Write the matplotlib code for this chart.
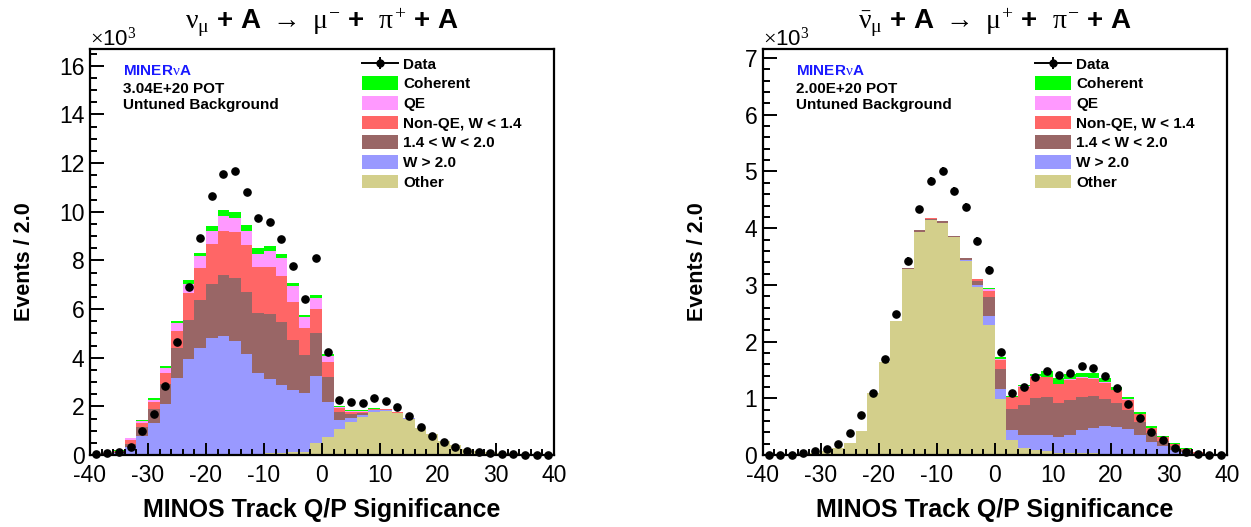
import numpy as np
import matplotlib
matplotlib.use("Agg")
import matplotlib.pyplot as plt
from matplotlib.ticker import MultipleLocator
from matplotlib.patches import Patch
from matplotlib.lines import Line2D
from matplotlib.legend_handler import HandlerTuple

plt.rcParams['font.family'] = ['Liberation Sans', 'DejaVu Sans']
plt.rcParams['mathtext.fontset'] = 'custom'
plt.rcParams['mathtext.rm'] = 'Liberation Serif'
plt.rcParams['mathtext.it'] = 'Liberation Serif'
plt.rcParams['mathtext.bf'] = 'Liberation Serif:bold'
plt.rcParams['axes.unicode_minus'] = False

# ---------------- data (units of 10^3 events per bin of 2.0) ----------------
bin_edges = np.arange(-40, 42, 2)
bin_centers = 0.5 * (bin_edges[:-1] + bin_edges[1:])

legend_labels = ["Coherent", "QE", "Non-QE, W < 1.4", "1.4 < W < 2.0", "W > 2.0", "Other"]
stack_colors = ["#d3cf8b", "#9999ff", "#996666", "#ff6666", "#ff99ff", "#00ff00"]  # bottom -> top

# neutrino mode (left)
nu_other = [0.01, 0.01, 0.02, 0.03, 0.04, 0.04, 0.04, 0.04, 0.04, 0.04,
            0.04, 0.04, 0.05, 0.05, 0.06, 0.07, 0.08, 0.12, 0.14, 0.51,
            0.75, 1.05, 1.34, 1.57, 1.78, 1.82, 1.71, 1.50, 1.12, 0.85,
            0.57, 0.41, 0.26, 0.16, 0.11, 0.08, 0.07, 0.06, 0.05, 0.05]
nu_wgt2 = [0.02, 0.03, 0.08, 0.28, 0.74, 1.26, 2.04, 3.11, 3.90, 4.35,
           4.75, 4.86, 4.63, 4.10, 3.32, 3.05, 2.79, 2.55, 2.42, 2.73,
           1.44, 0.39, 0.19, 0.09, 0.06, 0.03, 0.02, 0.01, 0.01, 0.00,
           0.00, 0.00, 0.00, 0.00, 0.00, 0.00, 0.00, 0.00, 0.00, 0.00]
nu_w1420 = [0.01, 0.01, 0.03, 0.14, 0.38, 0.59, 0.84, 1.23, 1.63, 1.98,
            2.23, 2.52, 2.59, 2.54, 2.47, 2.68, 2.61, 2.05, 1.55, 1.77,
            1.03, 0.31, 0.17, 0.08, 0.03, 0.02, 0.01, 0.01, 0.00, 0.00,
            0.00, 0.00, 0.00, 0.00, 0.00, 0.00, 0.00, 0.00, 0.00, 0.00]
nu_nonqe = [0.01, 0.02, 0.04, 0.17, 0.14, 0.27, 0.47, 0.73, 1.10, 1.30,
            1.65, 1.78, 1.89, 1.93, 1.86, 1.93, 1.88, 1.58, 1.12, 1.00,
            0.61, 0.17, 0.08, 0.04, 0.03, 0.01, 0.01, 0.00, 0.00, 0.00,
            0.00, 0.00, 0.00, 0.00, 0.00, 0.00, 0.00, 0.00, 0.00, 0.00]
nu_qe = [0.00, 0.00, 0.01, 0.06, 0.08, 0.10, 0.20, 0.30, 0.38, 0.50,
         0.54, 0.63, 0.59, 0.58, 0.57, 0.65, 0.72, 0.65, 0.45, 0.45,
         0.24, 0.06, 0.03, 0.03, 0.01, 0.01, 0.00, 0.00, 0.00, 0.00,
         0.00, 0.00, 0.00, 0.00, 0.00, 0.00, 0.00, 0.00, 0.00, 0.00]
nu_coh = [0.00, 0.00, 0.01, 0.03, 0.06, 0.07, 0.05, 0.09, 0.14, 0.15,
          0.21, 0.23, 0.24, 0.25, 0.22, 0.23, 0.20, 0.14, 0.08, 0.10,
          0.08, 0.05, 0.02, 0.02, 0.01, 0.00, 0.00, 0.00, 0.00, 0.00,
          0.00, 0.00, 0.00, 0.00, 0.00, 0.00, 0.00, 0.00, 0.00, 0.00]
nu_data = [0.06, 0.07, 0.11, 0.34, 0.99, 1.68, 2.85, 4.63, 6.89, 8.90,
           10.65, 11.57, 11.66, 10.80, 9.75, 9.56, 8.86, 7.76, 6.42, 8.10,
           4.23, 2.26, 2.16, 2.15, 2.33, 2.22, 1.97, 1.59, 1.15, 0.77,
           0.53, 0.31, 0.18, 0.11, 0.07, 0.04, 0.03, 0.01, 0.01, 0.005]

# antineutrino mode (right)
nub_other = [0.00, 0.01, 0.01, 0.02, 0.04, 0.07, 0.12, 0.21, 0.42, 1.10,
             1.64, 2.37, 3.28, 3.94, 4.15, 4.09, 3.84, 3.42, 2.96, 2.29,
             0.98, 0.26, 0.13, 0.09, 0.07, 0.04, 0.03, 0.03, 0.03, 0.02,
             0.02, 0.02, 0.01, 0.01, 0.01, 0.01, 0.00, 0.00, 0.00, 0.00]
nub_wgt2 = [0.00, 0.00, 0.00, 0.00, 0.00, 0.00, 0.00, 0.00, 0.00, 0.00,
            0.00, 0.00, 0.00, 0.00, 0.00, 0.00, 0.01, 0.02, 0.03, 0.16,
            0.19, 0.18, 0.23, 0.26, 0.28, 0.28, 0.33, 0.41, 0.45, 0.49,
            0.47, 0.43, 0.34, 0.22, 0.14, 0.08, 0.05, 0.02, 0.01, 0.01]
nub_w1420 = [0.00, 0.00, 0.00, 0.00, 0.00, 0.00, 0.00, 0.00, 0.00, 0.00,
             0.00, 0.00, 0.01, 0.02, 0.02, 0.03, 0.02, 0.03, 0.08, 0.33,
             0.34, 0.37, 0.52, 0.65, 0.67, 0.60, 0.61, 0.59, 0.56, 0.47,
             0.43, 0.35, 0.24, 0.15, 0.10, 0.07, 0.04, 0.02, 0.01, 0.00]
nub_nonqe = [0.00, 0.00, 0.00, 0.00, 0.00, 0.00, 0.00, 0.00, 0.00, 0.00,
             0.00, 0.00, 0.00, 0.00, 0.01, 0.00, 0.00, 0.01, 0.03, 0.12,
             0.16, 0.21, 0.32, 0.38, 0.35, 0.33, 0.36, 0.33, 0.30, 0.29,
             0.22, 0.17, 0.13, 0.09, 0.06, 0.03, 0.02, 0.01, 0.00, 0.00]
nub_qe = [0.00, 0.00, 0.00, 0.00, 0.00, 0.00, 0.00, 0.00, 0.00, 0.00,
          0.00, 0.00, 0.00, 0.00, 0.00, 0.00, 0.00, 0.00, 0.00, 0.02,
          0.02, 0.01, 0.01, 0.01, 0.01, 0.01, 0.01, 0.01, 0.01, 0.01,
          0.01, 0.01, 0.01, 0.01, 0.00, 0.00, 0.00, 0.00, 0.00, 0.00]
nub_coh = [0.00, 0.00, 0.00, 0.00, 0.00, 0.00, 0.00, 0.00, 0.00, 0.00,
           0.00, 0.00, 0.00, 0.00, 0.00, 0.00, 0.00, 0.00, 0.01, 0.03,
           0.03, 0.01, 0.02, 0.04, 0.10, 0.09, 0.08, 0.08, 0.09, 0.07,
           0.05, 0.04, 0.03, 0.03, 0.02, 0.02, 0.01, 0.00, 0.00, 0.00]
nub_data = [0.005, 0.005, 0.005, 0.03, 0.07, 0.11, 0.19, 0.38, 0.70, 1.10,
            1.69, 2.48, 3.43, 4.33, 4.83, 5.00, 4.65, 4.37, 3.78, 3.27,
            1.82, 1.09, 1.20, 1.38, 1.48, 1.41, 1.45, 1.57, 1.53, 1.39,
            1.19, 0.90, 0.65, 0.41, 0.26, 0.12, 0.05, 0.01, 0.005, 0.005]

# ---------------- figure ----------------
W, H = 1251, 527
fig = plt.figure(figsize=(W / 100, H / 100), dpi=100)


def px_axes(x0, y_top, w, h):
    return fig.add_axes([x0 / W, 1 - (y_top + h) / H, w / W, h / H])


ax_l = px_axes(90, 49, 464, 406)
ax_r = px_axes(762.7, 49, 464, 406)


def draw_panel(ax, comps, data, ymax, ymajor, yminor, title, pot):
    bottom = np.zeros(len(bin_centers))
    for vals, col in zip(comps, stack_colors):
        vals = np.asarray(vals, dtype=float)
        ax.stairs(bottom + vals, bin_edges, baseline=bottom, fill=True,
                  color=col, lw=0)
        bottom = bottom + vals
    d = np.asarray(data, dtype=float)
    ax.errorbar(bin_centers, d, yerr=np.sqrt(d * 1000) / 1000, fmt='o',
                color='k', ms=5.2, elinewidth=1.3, capsize=0, zorder=5,
                clip_on=False)
    ax.set_xlim(-40, 40)
    ax.set_ylim(0, ymax)
    ax.xaxis.set_major_locator(MultipleLocator(10))
    ax.xaxis.set_minor_locator(MultipleLocator(2))
    ax.yaxis.set_major_locator(MultipleLocator(ymajor))
    ax.yaxis.set_minor_locator(MultipleLocator(yminor))
    ax.tick_params(which='both', direction='in', top=False, right=False,
                   width=1.4, labelsize=16.5)
    ax.tick_params(axis='y', which='major', length=10, pad=4)
    ax.tick_params(axis='y', which='minor', length=5)
    ax.tick_params(axis='x', which='major', length=8.5, pad=6.5)
    ax.tick_params(axis='x', which='minor', length=4.5)
    for s in ax.spines.values():
        s.set_linewidth(1.6)
    ax.text(0, 1.007, r'$\times$10$^{3}$', transform=ax.transAxes,
            ha='left', va='baseline', fontsize=16)
    ax.text(0.5, 1 + (49 - 28.3) / 406, title, transform=ax.transAxes,
            ha='center', va='baseline', fontsize=20, fontweight='bold')
    ax.text(0.0718, 0.9466, r'MINER$\nu$A', transform=ax.transAxes,
            ha='left', va='center', fontsize=11, fontweight='bold', color='#1a1aff')
    ax.text(0.0718, 0.9007, pot, transform=ax.transAxes,
            ha='left', va='center', fontsize=11, fontweight='bold')
    ax.text(0.0718, 0.8620, 'Untuned Background', transform=ax.transAxes,
            ha='left', va='center', fontsize=11, fontweight='bold')

    data_handle = (Line2D([], [], color='k', lw=1.4),
                   Line2D([], [], color='k', marker='|', ms=8, ls='none', mew=1.4),
                   Line2D([], [], color='k', marker='o', ms=5, ls='none'))
    patches = [Patch(facecolor=c, edgecolor='none') for c in stack_colors[::-1]]
    ax.legend([data_handle] + patches, ['Data'] + legend_labels,
              handler_map={tuple: HandlerTuple(ndivide=1, pad=0)},
              loc='upper left', bbox_to_anchor=(0.586, 0.981),
              frameon=False, prop={'weight': 'bold', 'size': 11},
              handlelength=2.36, handleheight=1.0, handletextpad=0.35,
              labelspacing=0.3, borderpad=0, borderaxespad=0)


draw_panel(ax_l, [nu_other, nu_wgt2, nu_w1420, nu_nonqe, nu_qe, nu_coh], nu_data,
           16.69, 2, 0.5,
           r'$\nu_{\mu}$ + A $\rightarrow$ $\mu^{-}$ +  $\pi^{+}$ + A', '3.04E+20 POT')
draw_panel(ax_r, [nub_other, nub_wgt2, nub_w1420, nub_nonqe, nub_qe, nub_coh], nub_data,
           7.16, 1, 0.2,
           r'$\bar{\nu}_{\mu}$ + A $\rightarrow$ $\mu^{+}$ +  $\pi^{-}$ + A', '2.00E+20 POT')

for xc in (322 / W, 995 / W):
    fig.text(xc, 1 - 510 / H, 'MINOS Track Q/P Significance', ha='center', va='center',
             fontsize=18, fontweight='bold')
for xc in (25 / W, 697 / W):
    fig.text(xc, 1 - 262 / H, 'Events / 2.0', ha='center', va='center',
             rotation=90, fontsize=15.5, fontweight='bold')

fig.savefig('out.png', dpi=100)
